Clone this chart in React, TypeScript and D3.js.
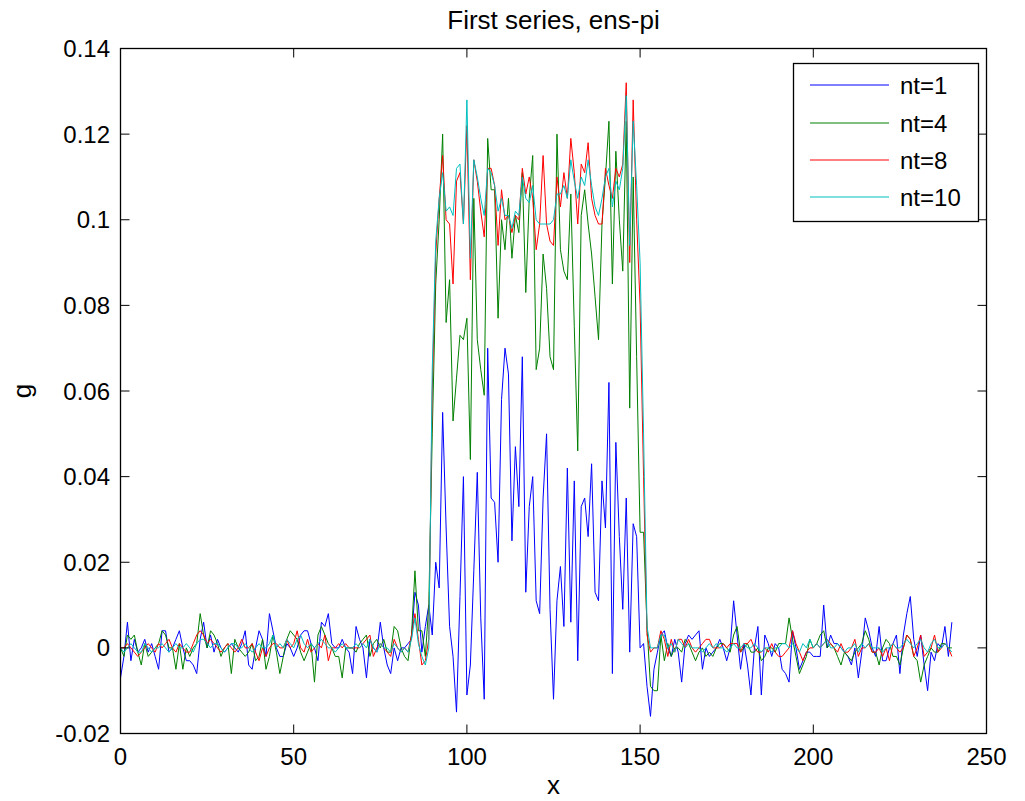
import React from "react";
import * as d3 from "d3";

// values in units of 1e-3 (g x 1000), x = 0..240
const nt1 = [
  -7, -2, 6, -3, 2, -1, 0, 2, -1, 1,
  -2, -5, 4, 4, -1, 0, 2, 4, 0, -3,
  -3, -4, -6, 2, 6, 0, 3, -1, 2, 0,
  -1, 0, 1, 0, -1, 1, 4, -4, -5, 0,
  4, 2, -2, 8, 4, 0, -2, -2, 1, 0,
  -2, 0, 3, 4, 4, 1, 0, -3, 6, 5,
  8, 1, 0, 0, 2, 0, -1, -6, 5, 2,
  0, -7, 2, 0, -1, 6, 0, -4, -6, 0,
  -3, 0, 0, 1, 2, 13, 10, -1, 5, 10,
  3, 20, 14, 55, 28, 5, -2, -15, 12, 40,
  -11, -4, 18, 41, 7, -12, 70, 35, 34, 20,
  58, 70, 64, 25, 47, 33, 68, 13, 33, 40,
  11, 8, 35, 50, 9, -12, 11, 19, 5, 42,
  6, 39, -3, 33, 35, 26, 43, 13, 11, 39,
  28, 62, -6, 48, 26, 9, 35, -1, 29, 26,
  0, 1, -9, -16, -5, -1, 3, 4, 0, -2,
  2, -1, -8, 1, 3, 2, 3, 4, -5, 0,
  -2, -1, 0, 2, 0, -3, 0, 11, 3, -5,
  1, -4, -11, 0, 5, -11, 3, 1, -2, 1,
  0, -5, -6, -8, 4, 0, -5, -3, -1, -1,
  -2, -2, -2, 10, 0, 3, 1, 1, 0, -1,
  -2, -4, 0, -7, -1, 7, 4, 0, -2, 5,
  -3, -3, 0, 1, 3, -6, 3, 8, 12, 2,
  -2, 3, -4, -10, -1, -3, 1, 0, 5, -2,
  6,
];

const nt4 = [
  0, -2, 3, 2, 3, -1, -4, 1, -2, -1,
  0, 1, 4, 3, 0, 0, -5, 1, -5, 0,
  -2, 0, 1, 8, 3, 0, 4, 3, 1, -2,
  0, 1, -6, 2, 0, -1, -2, -1, 1, -3,
  -2, 2, -5, -2, 3, -1, -6, -2, 2, 4,
  3, 2, -1, -3, -1, 1, -8, 3, 5, 3,
  1, 0, -2, -2, -7, 0, 0, 0, -1, 1,
  2, 3, -2, 1, 2, 0, 2, -1, -1, 5,
  4, 0, -2, -3, 3, 18, 4, 4, -2, 10,
  50, 85, 100, 120, 76, 86, 53, 63, 73, 72,
  77, 44, 105, 72, 65, 59, 119, 107, 107, 77,
  100, 93, 105, 91, 101, 97, 111, 83, 105, 115,
  65, 70, 92, 84, 68, 65, 120, 93, 88, 86,
  106, 75, 46, 101, 107, 99, 92, 82, 72, 99,
  110, 123, 85, 116, 100, 88, 123, 56, 110, 68,
  27, 27, 5, -9, -10, -10, 3, -3, 1, -2,
  0, 0, -1, 2, 1, -1, -3, -1, 0, -2,
  -1, -2, 0, 1, 1, 0, -1, 3, 5, -1,
  0, 1, -1, -1, 0, -3, -2, 0, 0, -1,
  1, 1, 1, 7, 2, -2, -6, -4, -2, 2,
  0, 1, 3, 4, 0, 1, 0, -2, -4, -1,
  -2, -3, -1, 0, 1, 4, 2, -1, -1, -4,
  0, 2, 1, -2, -2, -4, 0, 3, 2, -2,
  -3, -8, -4, -2, 0, -1, -1, 1, 1, 0,
  0,
];

const nt8 = [
  0, 0, 1, 0, -1, -2, -1, 0, 1, 0,
  -1, 1, 0, 1, 2, 0, -1, 1, 0, -1,
  -1, 1, 3, 4, 3, 1, 2, 1, 0, -1,
  0, 1, 0, -1, 0, 2, 0, 0, 1, -1,
  -3, 0, -2, 0, 1, 1, 0, 0, 2, 0,
  1, 4, 0, -1, 2, -1, 0, 1, 0, 3,
  -3, 0, 0, 1, 0, 1, 0, 0, 0, 0,
  1, 2, 3, -2, 0, 1, 0, -1, -2, 2,
  0, -1, 0, -1, 3, 8, 2, -4, -3, 2,
  60, 92, 105, 115, 100, 99, 85, 109, 111, 99,
  122, 86, 114, 109, 102, 96, 112, 112, 108, 94,
  107, 100, 101, 97, 101, 100, 112, 106, 110, 105,
  93, 99, 115, 99, 95, 94, 110, 103, 111, 105,
  119, 111, 99, 113, 111, 118, 105, 101, 99, 99,
  112, 108, 105, 112, 110, 113, 132, 90, 128, 100,
  80, 40, 3, -1, 0, 0, 4, 2, -2, 2,
  -1, 2, 2, 0, 2, 0, -1, 0, 1, 2,
  2, 0, 0, 0, 1, 0, 1, 1, 1, -1,
  1, 1, 2, 0, -1, -1, 0, -1, 1, -1,
  -2, -2, -1, 0, 4, 1, -1, -3, -1, 0,
  0, 1, 0, 1, 2, 1, 0, -1, 1, -1,
  -1, 0, 2, -2, 0, 0, 1, -1, -1, 0,
  -2, 0, -3, 1, 0, -1, 0, 3, 2, -2,
  0, 3, -2, -1, 0, 3, -1, 0, 1, 0,
  -2,
];

const nt10 = [
  0, -1, 0, 1, 0, -1, -1, 1, 0, -1,
  0, 0, 1, 0, -1, 0, 1, 0, 0, 1,
  0, -1, 1, 2, 2, 1, 0, 1, 1, 0,
  -1, 0, 1, 1, 0, 0, 1, 0, -1, 0,
  1, 0, 0, 1, 3, 0, 1, 0, 2, 1,
  0, 2, 3, 1, 0, 1, 0, 1, 2, 1,
  0, 0, -1, 0, 1, 0, 0, 0, 1, 0,
  1, 0, 2, 0, -1, 1, 0, 0, -1, 1,
  0, -1, 0, -1, 2, 7, 1, -2, -4, 0,
  65, 95, 105, 111, 102, 103, 101, 112, 113, 99,
  128, 91, 114, 110, 105, 101, 112, 111, 108, 102,
  105, 101, 101, 98, 102, 101, 110, 105, 104, 108,
  100, 99, 99, 99, 99, 100, 106, 106, 108, 105,
  114, 109, 105, 110, 108, 114, 108, 103, 101, 105,
  110, 112, 103, 109, 107, 112, 129, 94, 123, 108,
  90, 50, 5, 0, 0, 0, 3, 3, 0, 1,
  -1, 2, 1, 0, 1, 0, 0, 0, -1, 0,
  1, 0, 1, 0, 0, -1, 0, 1, 0, 0,
  1, 0, 0, 1, 0, -1, 0, 0, -1, 0,
  0, 1, 1, 0, 1, 0, -1, 1, 0, 2,
  0, 1, 0, 1, 2, 0, 0, 1, 0, -1,
  0, 0, 1, -1, 1, 0, 1, 0, 0, 0,
  -1, 0, 0, 1, 0, 0, 1, 2, 1, 0,
  1, 2, 0, -1, 1, 2, 0, 0, 1, 0,
  -1,
];

const seriesNames = ["nt=1", "nt=4", "nt=8", "nt=10"];
const seriesColors = ["#0000ff", "#008000", "#ff0000", "#00bfbf"];
const seriesData = [nt1, nt4, nt8, nt10];

const xTicks = [0, 50, 100, 150, 200, 250];
const xTickLabels = ["0", "50", "100", "150", "200", "250"];
const yTicks = [-0.02, 0, 0.02, 0.04, 0.06, 0.08, 0.1, 0.12, 0.14];
const yTickLabels = ["-0.02", "0", "0.02", "0.04", "0.06", "0.08", "0.1", "0.12", "0.14"];

const titleText = "First series, ens-pi";
const xLabel = "x";
const yLabel = "g";

const W = 1025;
const H = 801;
const L = 120.5;
const R = 986.5;
const T = 48.5;
const B = 733.5;
const FONT = "'Liberation Sans', Arial, Helvetica, sans-serif";
const FS = 24;
const FS_LABEL = 26;
const TICK = 9;

export default function App() {
  const x = d3.scaleLinear().domain([0, 250]).range([L, R]);
  const y = d3.scaleLinear().domain([-0.02, 0.14]).range([B, T]);
  const line = d3
    .line<number>()
    .x((_, i) => x(i))
    .y((v) => y(v / 1000));

  const legX = 793.5;
  const legY = 63.5;
  const legW = 185;
  const legH = 158;
  const legRows = [85, 123, 160, 197];

  return (
    <svg
      width={W}
      height={H}
      style={{ position: "absolute", left: 0, top: 0, background: "#fff" }}
      fontFamily={FONT}
    >
      <rect x={0} y={0} width={W} height={H} fill="#fff" />
      {seriesData.map((d, k) => (
        <path key={k} d={line(d) || ""} fill="none" stroke={seriesColors[k]} strokeWidth={1} />
      ))}
      {/* axes box */}
      <rect x={L} y={T} width={R - L} height={B - T} fill="none" stroke="#000" strokeWidth={1.3} />
      {xTicks.map((t, i) => (
        <g key={"xt" + i}>
          <line x1={x(t)} x2={x(t)} y1={B} y2={B - TICK} stroke="#000" strokeWidth={1} />
          <line x1={x(t)} x2={x(t)} y1={T} y2={T + TICK} stroke="#000" strokeWidth={1} />
          <text x={x(t)} y={765} fontSize={FS} textAnchor="middle" fill="#000">
            {xTickLabels[i]}
          </text>
        </g>
      ))}
      {yTicks.map((t, i) => (
        <g key={"yt" + i}>
          <line x1={L} x2={L + TICK} y1={y(t)} y2={y(t)} stroke="#000" strokeWidth={1} />
          <line x1={R} x2={R - TICK} y1={y(t)} y2={y(t)} stroke="#000" strokeWidth={1} />
          <text x={110} y={y(t) + 8.5} fontSize={FS} textAnchor="end" fill="#000">
            {yTickLabels[i]}
          </text>
        </g>
      ))}
      <text x={(L + R) / 2} y={29} fontSize={FS_LABEL} textAnchor="middle" fill="#000">
        {titleText}
      </text>
      <text x={(L + R) / 2} y={794} fontSize={FS_LABEL} textAnchor="middle" fill="#000">
        {xLabel}
      </text>
      <text
        transform={`translate(31, ${(T + B) / 2}) rotate(-90)`}
        fontSize={FS_LABEL}
        textAnchor="middle"
        fill="#000"
      >
        {yLabel}
      </text>
      {/* legend */}
      <rect x={legX} y={legY} width={legW} height={legH} fill="#fff" stroke="#000" strokeWidth={1.3} />
      {seriesNames.map((n, k) => (
        <g key={"lg" + k}>
          <line x1={810} x2={889} y1={legRows[k]} y2={legRows[k]} stroke={seriesColors[k]} strokeWidth={1} />
          <text x={900} y={legRows[k] + 8.5} fontSize={FS} fill="#000">
            {n}
          </text>
        </g>
      ))}
    </svg>
  );
}
